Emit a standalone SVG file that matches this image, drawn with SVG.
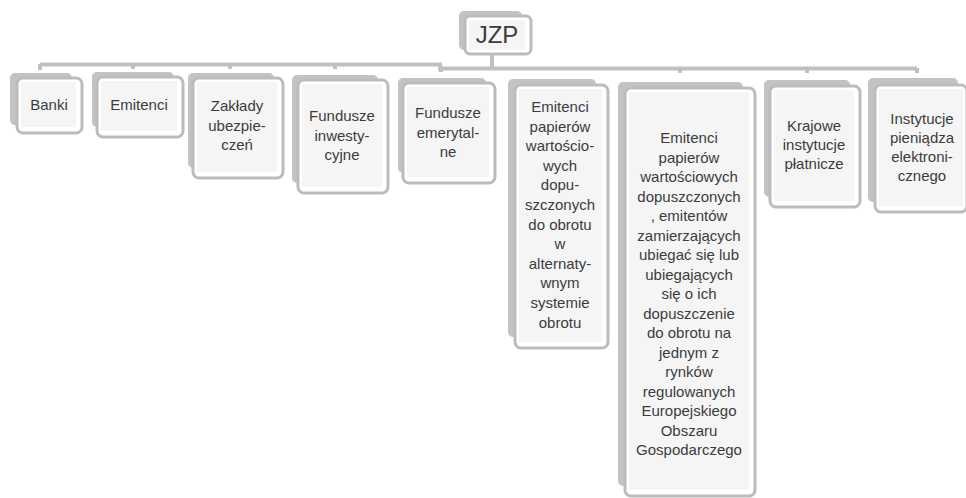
<svg xmlns="http://www.w3.org/2000/svg" width="966" height="498" viewBox="0 0 966 498">
<style>
.sh{fill:#c3c3c3;}
.fr{fill:#ffffff;stroke:#bcbcbc;stroke-width:3;}
.in{fill:#f5f5f5;}
.t{font-family:"Liberation Sans",Arial,sans-serif;font-size:15px;fill:#3c3c3c;text-anchor:middle;}
.c{stroke:#c0c0c0;stroke-width:4;fill:none;}
</style>
<rect width="966" height="498" fill="#ffffff"/>
<g id="connectors">
<line class="c" x1="492" y1="52" x2="492" y2="68"/>
<line class="c" x1="40" y1="64.5" x2="442" y2="64.5"/>
<line class="c" x1="438" y1="68.5" x2="917" y2="68.5"/>
<line class="c" x1="40" y1="64" x2="40" y2="70" stroke-width="3"/>
<line class="c" x1="133" y1="64" x2="133" y2="69" stroke-width="2"/>
<line class="c" x1="230" y1="64" x2="230" y2="69" stroke-width="2"/>
<line class="c" x1="335" y1="64" x2="335" y2="69" stroke-width="2"/>
<line class="c" x1="441" y1="66" x2="441" y2="72" stroke-width="2"/>
<line class="c" x1="680" y1="68" x2="680" y2="73" stroke-width="2"/>
<line class="c" x1="807" y1="68" x2="807" y2="73" stroke-width="2"/>
<line class="c" x1="917" y1="68" x2="917" y2="73" stroke-width="3"/>
</g>
<g id="jzp">
<rect class="sh" x="459" y="11" width="63" height="39" rx="5"/>
<rect class="fr" x="465" y="16" width="66" height="38" rx="5"/>
<rect class="in" x="469" y="20" width="56" height="30"/>
<text class="t" x="497" y="43" style="font-size:24px">JZP</text>
</g>
<g id="banki">
<rect class="sh" x="10" y="73" width="62" height="52" rx="5"/>
<rect class="fr" x="17" y="78" width="65" height="55" rx="6"/>
<rect class="in" x="21" y="82" width="55" height="45"/>
<text class="t" x="49" y="110">Banki</text>
</g>
<g id="emitenci">
<rect class="sh" x="92" y="72" width="82" height="55" rx="5"/>
<rect class="fr" x="97" y="77" width="86" height="60" rx="6"/>
<rect class="in" x="101" y="81" width="76" height="50"/>
<text class="t" x="139" y="110">Emitenci</text>
</g>
<g id="zaklady">
<rect class="sh" x="188" y="73" width="86" height="95" rx="5"/>
<rect class="fr" x="193" y="78" width="90" height="100" rx="6"/>
<rect class="in" x="197" y="82" width="80" height="90"/>
<text class="t" x="237" y="111">Zakłady<tspan x="237" dy="19.5">ubezpie-</tspan><tspan x="237" dy="19.5">czeń</tspan></text>
</g>
<g id="fundusze-inw">
<rect class="sh" x="292" y="75" width="86" height="108" rx="5"/>
<rect class="fr" x="298" y="80" width="90" height="113" rx="6"/>
<rect class="in" x="302" y="84" width="80" height="103"/>
<text class="t" x="342" y="121">Fundusze<tspan x="342" dy="19.5">inwesty-</tspan><tspan x="342" dy="19.5">cyjne</tspan></text>
</g>
<g id="fundusze-em">
<rect class="sh" x="398" y="78" width="88" height="95" rx="5"/>
<rect class="fr" x="403" y="83" width="92" height="100" rx="6"/>
<rect class="in" x="407" y="87" width="82" height="90"/>
<text class="t" x="448" y="118">Fundusze<tspan x="448" dy="19.5">emerytal-</tspan><tspan x="448" dy="19.5">ne</tspan></text>
</g>
<g id="emitenci-asO">
<rect class="sh" x="508" y="79" width="88" height="258" rx="5"/>
<rect class="fr" x="515" y="85" width="93" height="263" rx="6"/>
<rect class="in" x="519" y="89" width="83" height="253"/>
<text class="t" x="560" y="112">Emitenci<tspan x="560" dy="19.6">papierów</tspan><tspan x="560" dy="19.6">wartościo-</tspan><tspan x="560" dy="19.6">wych</tspan><tspan x="560" dy="19.6">dopu-</tspan><tspan x="560" dy="19.6">szczonych</tspan><tspan x="560" dy="19.6">do obrotu</tspan><tspan x="560" dy="19.6">w</tspan><tspan x="560" dy="19.6">alternaty-</tspan><tspan x="560" dy="19.6">wnym</tspan><tspan x="560" dy="19.6">systemie</tspan><tspan x="560" dy="19.6">obrotu</tspan></text>
</g>
<g id="emitenci-rr">
<rect class="sh" x="618" y="82" width="125" height="404" rx="5"/>
<rect class="fr" x="625" y="88" width="130" height="408" rx="6"/>
<rect class="in" x="629" y="92" width="120" height="398"/>
<text class="t" x="689" y="143">Emitenci<tspan x="689" dy="19.5">papierów</tspan><tspan x="689" dy="19.5">wartościowych</tspan><tspan x="689" dy="19.5">dopuszczonych</tspan><tspan x="689" dy="19.5">, emitentów</tspan><tspan x="689" dy="19.5">zamierzających</tspan><tspan x="689" dy="19.5">ubiegać się lub</tspan><tspan x="689" dy="19.5">ubiegających</tspan><tspan x="689" dy="19.5">się o ich</tspan><tspan x="689" dy="19.5">dopuszczenie</tspan><tspan x="689" dy="19.5">do obrotu na</tspan><tspan x="689" dy="19.5">jednym z</tspan><tspan x="689" dy="19.5">rynków</tspan><tspan x="689" dy="19.5">regulowanych</tspan><tspan x="689" dy="19.5">Europejskiego</tspan><tspan x="689" dy="19.5">Obszaru</tspan><tspan x="689" dy="19.5">Gospodarczego</tspan></text>
</g>
<g id="krajowe">
<rect class="sh" x="764" y="80" width="86" height="117" rx="5"/>
<rect class="fr" x="770" y="86" width="90" height="121" rx="6"/>
<rect class="in" x="774" y="90" width="80" height="111"/>
<text class="t" x="814" y="131">Krajowe<tspan x="814" dy="19">instytucje</tspan><tspan x="814" dy="19">płatnicze</tspan></text>
</g>
<g id="instytucje">
<rect class="sh" x="868" y="78" width="90" height="124" rx="5"/>
<rect class="fr" x="875" y="85" width="92" height="127" rx="6"/>
<rect class="in" x="879" y="89" width="84" height="117"/>
<text class="t" x="922" y="124">Instytucje<tspan x="922" dy="19">pieniądza</tspan><tspan x="922" dy="19">elektroni-</tspan><tspan x="922" dy="19">cznego</tspan></text>
</g>
</svg>
